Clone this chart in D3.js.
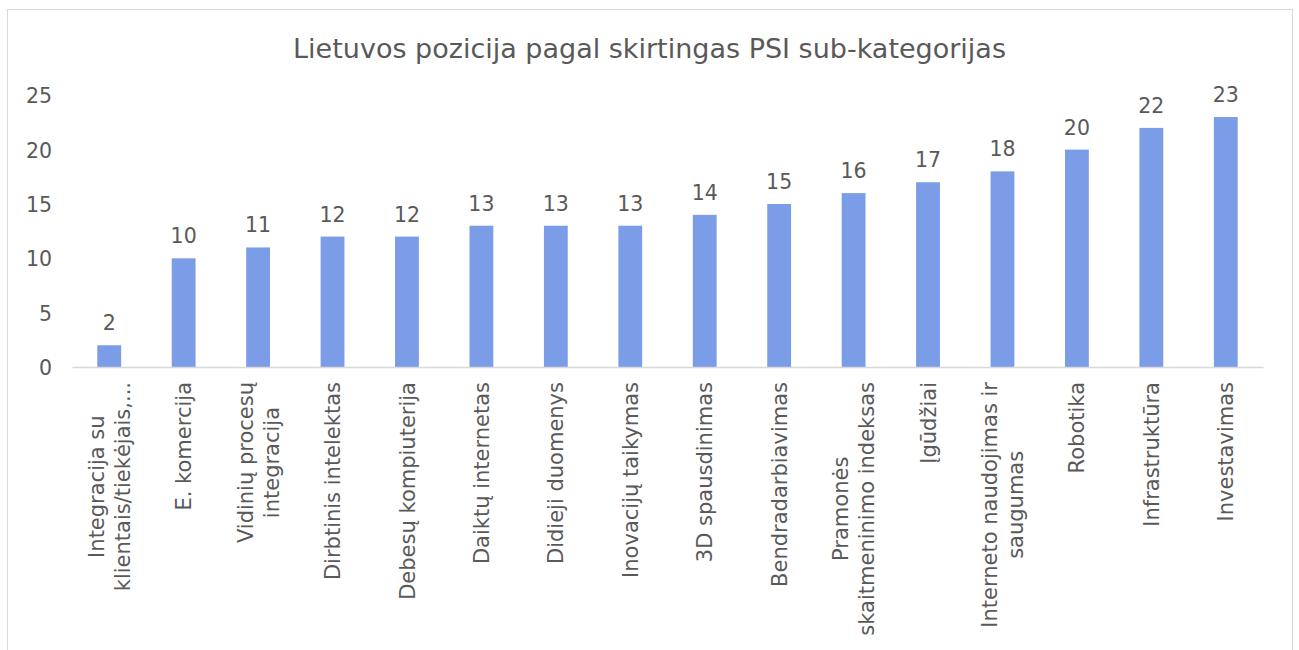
<!DOCTYPE html>
<html><head><meta charset="utf-8">
<script src="https://cdn.jsdelivr.net/npm/d3@7/dist/d3.min.js"></script>
<style>body{margin:0;background:#fff;} svg{display:block;} text{font-family:"DejaVu Sans",Verdana,sans-serif;fill:#595959;}</style>
</head><body>
<svg id="chart" width="1299" height="650"></svg>
<script>
const title = "Lietuvos pozicija pagal skirtingas PSI sub-kategorijas";
const categories = [
  ["Integracija su", "klientais/tiekėjais,..."],
  ["E. komercija"],
  ["Vidinių procesų", "integracija"],
  ["Dirbtinis intelektas"],
  ["Debesų kompiuterija"],
  ["Daiktų internetas"],
  ["Didieji duomenys"],
  ["Inovacijų taikymas"],
  ["3D spausdinimas"],
  ["Bendradarbiavimas"],
  ["Pramonės", "skaitmeninimo indeksas"],
  ["Įgūdžiai"],
  ["Interneto naudojimas ir", "saugumas"],
  ["Robotika"],
  ["Infrastruktūra"],
  ["Investavimas"]
];
const values = [2, 10, 11, 12, 12, 13, 13, 13, 14, 15, 16, 17, 18, 20, 22, 23];
const yTicks = [0, 5, 10, 15, 20, 25];

const svg = d3.select("#chart");
const pLeft = 72, pRight = 1263, pTop = 95.3, pBottom = 367;
const ids = d3.range(categories.length);

svg.append("rect").attr("x", 7.5).attr("y", 9.5).attr("width", 1285).attr("height", 660)
  .attr("fill", "#fff").attr("stroke", "#d9d9d9").attr("stroke-width", 1);

svg.append("text").attr("x", 649.5).attr("y", 58).attr("text-anchor", "middle")
  .style("font-size", "27px").text(title);

const x = d3.scaleBand().domain(ids).range([pLeft, pRight]).paddingInner(0.68).paddingOuter(0.34);
const y = d3.scaleLinear().domain([0, 25]).range([pBottom, pTop]);

// y axis (labels only)
const yAxis = d3.axisLeft(y).tickValues(yTicks).tickSize(0).tickPadding(0).tickFormat(d3.format("d"));
const gy = svg.append("g").attr("transform", `translate(52,0)`).call(yAxis);
gy.select(".domain").remove();
gy.selectAll("text").style("font-size", "20.5px").style("fill", "#595959").attr("dy", "0.36em")
  .style("font-family", '"DejaVu Sans",Verdana,sans-serif');

// bars
svg.append("g").selectAll("rect").data(ids).join("rect")
  .attr("x", i => x(i)).attr("width", x.bandwidth())
  .attr("y", i => y(values[i])).attr("height", i => y(0) - y(values[i]))
  .attr("fill", "#7b9ce6");

// data labels
svg.append("g").selectAll("text").data(ids).join("text")
  .attr("x", i => x(i) + x.bandwidth() / 2).attr("y", i => y(values[i]) - 15)
  .attr("text-anchor", "middle").style("font-size", "20.5px").text(i => values[i]);

// x axis
const xAxis = d3.axisBottom(x).tickSize(0).tickFormat("");
const gx = svg.append("g").attr("transform", `translate(0,${pBottom})`).call(xAxis);
gx.select(".domain").attr("stroke", "#d9d9d9").attr("stroke-width", 1.5);

// category labels rotated
const lineH = 26;
ids.forEach(i => {
  const cx = x(i) + x.bandwidth() / 2;
  const lines = categories[i];
  const g = svg.append("g").attr("transform", `translate(${cx},${pBottom + 15}) rotate(-90)`);
  const texts = lines.map((l, k) => g.append("text").style("font-size", "21px").attr("text-anchor", "middle").text(l));
  const W = d3.max(texts, t => t.node().getComputedTextLength());
  const n = lines.length;
  texts.forEach((t, k) => {
    t.attr("x", -W / 2).attr("y", (k - (n - 1) / 2) * lineH).attr("dy", "0.36em");
  });
});
</script>
</body></html>
